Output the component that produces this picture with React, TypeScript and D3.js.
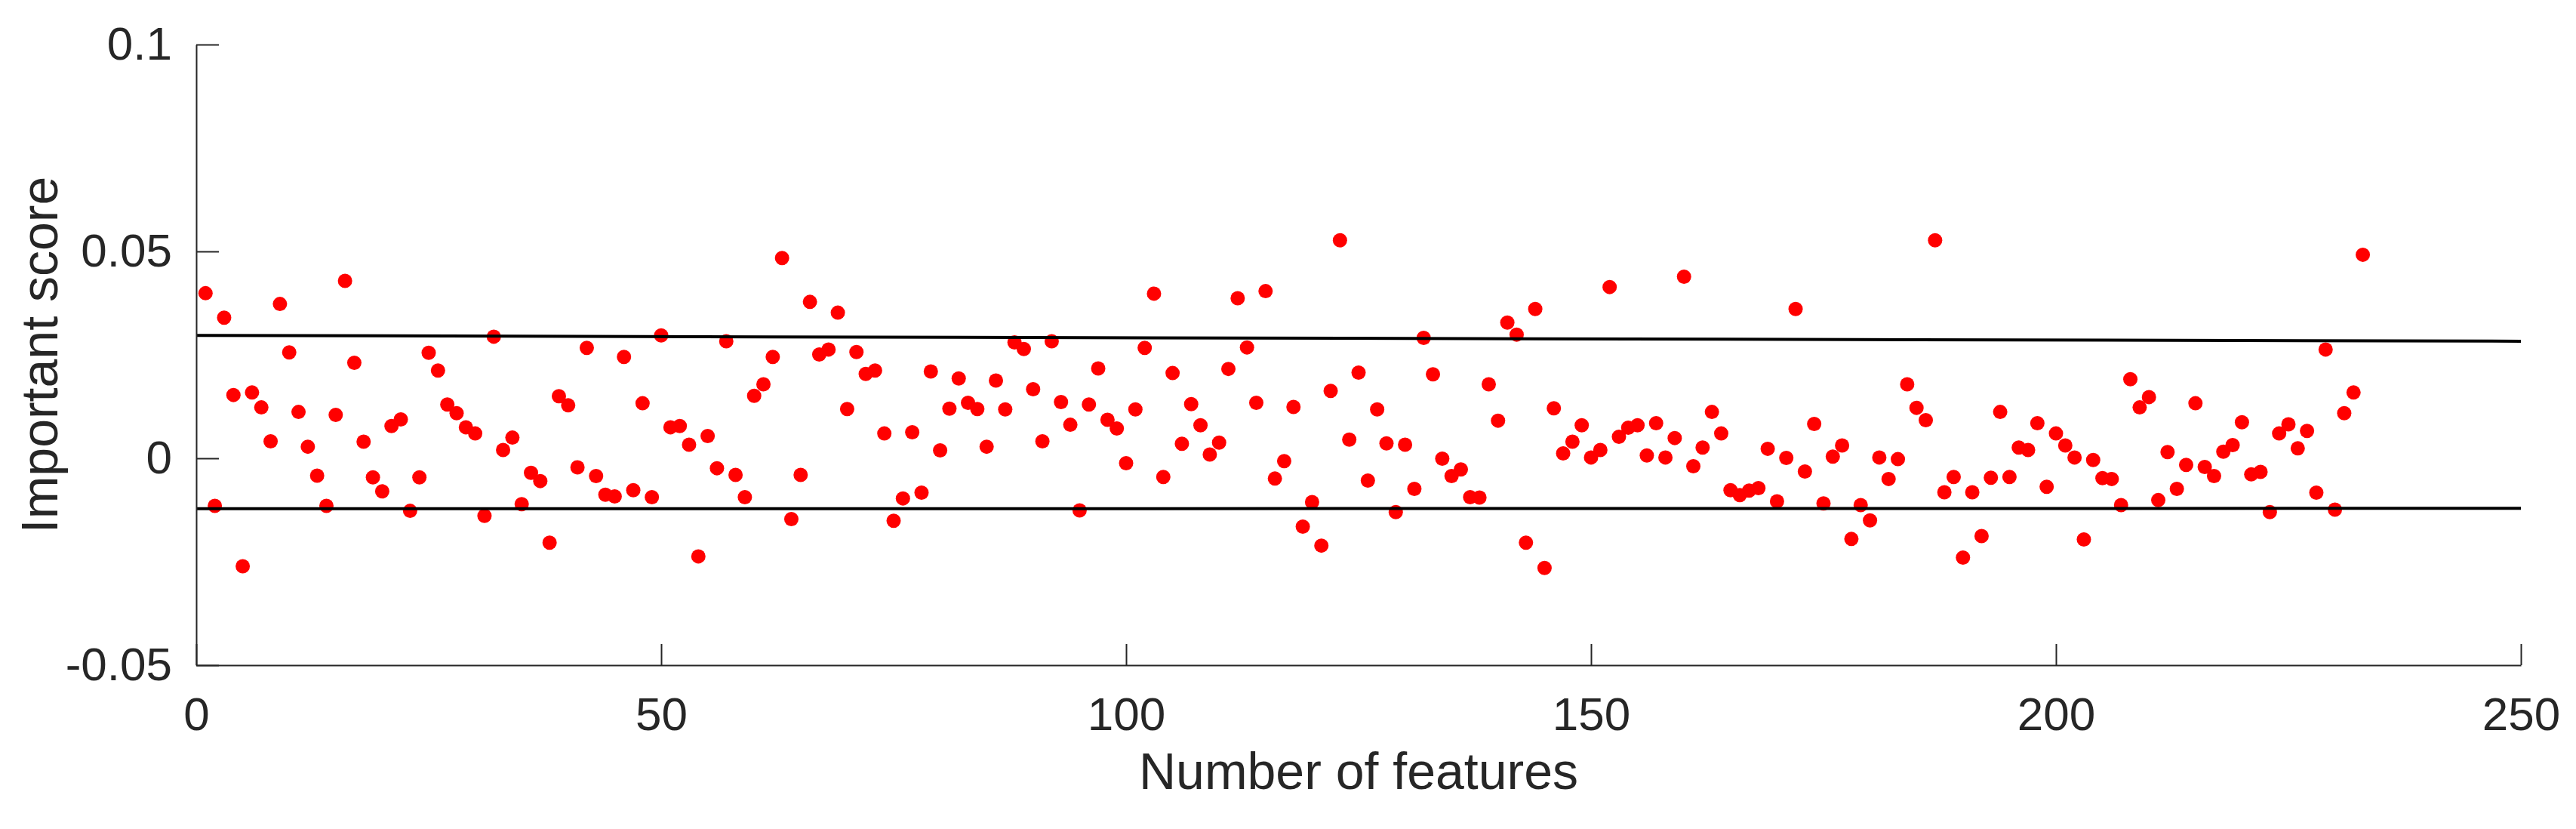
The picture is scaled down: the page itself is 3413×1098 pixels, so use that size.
import React, { useRef, useEffect } from "react";
import * as d3 from "d3";

// importance score per feature (feature 1..233)
const scores1to50 = [
  0.0399, -0.0115, 0.034, 0.0153, -0.0261, 0.0159, 0.0123, 0.0041, 0.0373, 0.0256,
  0.0112, 0.0028, -0.0042, -0.0115, 0.0105, 0.0429, 0.0231, 0.004, -0.0046, -0.008,
  0.0078, 0.0094, -0.0127, -0.0046, 0.0255, 0.0212, 0.013, 0.0109, 0.0075, 0.006,
  -0.0139, 0.0294, 0.002, 0.005, -0.0111, -0.0035, -0.0055, -0.0204, 0.015, 0.0128,
  -0.0022, 0.0267, -0.0043, -0.0088, -0.0092, 0.0245, -0.0077, 0.0133, -0.0094, 0.0297,
];
const scores51to100 = [
  0.0075, 0.0078, 0.0033, -0.0237, 0.0054, -0.0024, 0.0283, -0.004, -0.0094, 0.0151,
  0.0179, 0.0245, 0.0484, -0.0147, -0.004, 0.0378, 0.0251, 0.0263, 0.0352, 0.0119,
  0.0257, 0.0204, 0.0212, 0.006, -0.0151, -0.0097, 0.0063, -0.0083, 0.021, 0.0019,
  0.012, 0.0193, 0.0134, 0.0119, 0.0028, 0.0188, 0.0118, 0.028, 0.0264, 0.0167,
  0.0041, 0.0283, 0.0136, 0.0081, -0.0126, 0.013, 0.0217, 0.0093, 0.0072, -0.0012,
];
const scores101to150 = [
  0.0118, 0.0267, 0.0398, -0.0045, 0.0206, 0.0035, 0.0131, 0.008, 0.0009, 0.0038,
  0.0216, 0.0387, 0.0268, 0.0134, 0.0404, -0.0049, -0.0007, 0.0124, -0.0165, -0.0106,
  -0.0211, 0.0163, 0.0527, 0.0045, 0.0207, -0.0054, 0.0118, 0.0036, -0.013, 0.0033,
  -0.0074, 0.0291, 0.0203, -0.0001, -0.0043, -0.0027, -0.0094, -0.0095, 0.0179, 0.0091,
  0.0328, 0.0299, -0.0204, 0.0361, -0.0265, 0.0121, 0.0012, 0.004, 0.008, 0.0002,
];
const scores151to200 = [
  0.002, 0.0414, 0.0052, 0.0074, 0.008, 0.0007, 0.0085, 0.0002, 0.0049, 0.0439,
  -0.0019, 0.0026, 0.0112, 0.006, -0.0077, -0.0089, -0.0078, -0.0072, 0.0023, -0.0104,
  0.0001, 0.0361, -0.0032, 0.0083, -0.0109, 0.0004, 0.0031, -0.0195, -0.0113, -0.015,
  0.0002, -0.005, -0.0002, 0.0179, 0.0122, 0.0092, 0.0527, -0.0082, -0.0045, -0.024,
  -0.0082, -0.0188, -0.0047, 0.0112, -0.0045, 0.0026, 0.002, 0.0085, -0.0069, 0.006,
];
const scores201to233 = [
  0.0031, 0.0002, -0.0196, -0.0004, -0.0048, -0.005, -0.0113, 0.0191, 0.0123, 0.0148,
  -0.0101, 0.0015, -0.0074, -0.0016, 0.0133, -0.0021, -0.0043, 0.0016, 0.0032, 0.0087,
  -0.0039, -0.0033, -0.013, 0.006, 0.0082, 0.0024, 0.0066, -0.0083, 0.0263, -0.0124,
  0.0109, 0.0159, 0.0492,
];

// threshold lines: [feature, score] at both ends
const upperLine = [
  [0, 0.0297],
  [250, 0.0283],
];
const lowerLine = [
  [0, -0.0122],
  [250, -0.0121],
];

const xTicks = [0, 50, 100, 150, 200, 250];
const yTicks = [-0.05, 0, 0.05, 0.1];

const W = 3413;
const H = 1098;
const AXIS = "#262626";
const FONT = "'Liberation Sans', Arial, Helvetica, sans-serif";

const App = () => {
  const svgRef = useRef(null);

  useEffect(() => {
    const svg = d3.select(svgRef.current);
    svg.selectAll("*").remove();

    const scores = [
      ...scores1to50,
      ...scores51to100,
      ...scores101to150,
      ...scores151to200,
      ...scores201to233,
    ];
    const points = scores.map((v, i) => ({ f: i + 1, v }));

    const x = d3.scaleLinear().domain([0, 250]).range([260, 3340]);
    const y = d3.scaleLinear().domain([-0.05, 0.1]).range([881, 59]);

    // dots
    svg
      .append("g")
      .selectAll("circle")
      .data(points)
      .join("circle")
      .attr("cx", (d) => x(d.f))
      .attr("cy", (d) => y(d.v))
      .attr("r", 9.5)
      .attr("fill", "#ff0000");

    // threshold lines
    const line = d3
      .line()
      .x((d) => x(d[0]))
      .y((d) => y(d[1]));
    [upperLine, lowerLine].forEach((l) => {
      svg
        .append("path")
        .attr("d", line(l))
        .attr("fill", "none")
        .attr("stroke", "#000")
        .attr("stroke-width", 4);
    });

    // axes, ticks pointing inward
    const xAxis = svg
      .append("g")
      .attr("transform", `translate(0,${y(-0.05)})`)
      .call(
        d3
          .axisBottom(x)
          .tickValues(xTicks)
          .tickSizeInner(-28)
          .tickSizeOuter(0)
          .tickPadding(42)
          .tickFormat((d) => String(d))
      );
    const yAxis = svg
      .append("g")
      .attr("transform", `translate(${x(0)},0)`)
      .call(
        d3
          .axisLeft(y)
          .tickValues(yTicks)
          .tickSizeInner(-30)
          .tickSizeOuter(0)
          .tickPadding(32)
          .tickFormat((d) => String(d))
      );

    [xAxis, yAxis].forEach((g) => {
      g.select(".domain").attr("stroke", AXIS).attr("stroke-width", 2);
      g.selectAll(".tick line").attr("stroke", AXIS).attr("stroke-width", 2);
      g.selectAll(".tick text")
        .attr("fill", AXIS)
        .style("font-family", FONT)
        .style("font-size", "62px");
    });

    svg
      .append("text")
      .attr("x", (x(0) + x(250)) / 2)
      .attr("y", 1045)
      .attr("text-anchor", "middle")
      .attr("fill", AXIS)
      .style("font-family", FONT)
      .style("font-size", "68px")
      .text("Number of features");

    svg
      .append("text")
      .attr("transform", `translate(76,${(y(0.1) + y(-0.05)) / 2}) rotate(-90)`)
      .attr("text-anchor", "middle")
      .attr("fill", AXIS)
      .style("font-family", FONT)
      .style("font-size", "68px")
      .text("Important score");
  }, []);

  return (
    <svg
      ref={svgRef}
      width={W}
      height={H}
      style={{ position: "absolute", left: 0, top: 0, background: "#fff" }}
    ></svg>
  );
};

export default App;
